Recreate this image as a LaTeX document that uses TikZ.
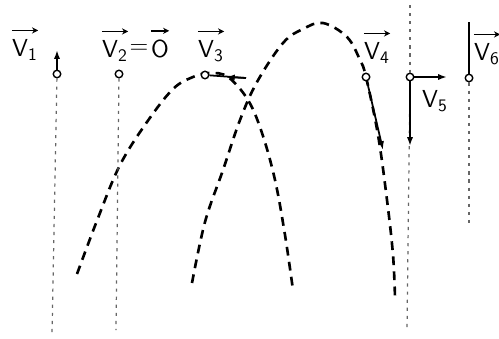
\documentclass[tikz,border=0pt]{standalone}
\usepackage{amsmath}
\usepackage{tikz}
\usetikzlibrary{arrows.meta}

\begin{document}
\begin{tikzpicture}[x=0.02cm, y=-0.02cm,
ball/.style={draw, circle, fill=white, inner sep=0pt, minimum size=0.15cm, line width=0.8pt},
lbl/.style={inner sep=0pt, font=\fontsize{14}{16}\sffamily},
track/.style={line width=1.5pt, dash pattern=on 5pt off 3.6pt},
fall/.style={line width=0.7pt, black!60, dash pattern=on 1.8pt off 2.8pt},
vel/.style={-{Latex[length=5pt,width=3.5pt]}, line width=1pt},
stick/.style={line width=1pt},
hat/.style={-{Stealth[length=3.5pt,width=3.5pt]}, line width=0.8pt}
]
\useasboundingbox (0,0) rectangle (499,338);

% flight paths
\draw[track] plot[smooth, tension=0.6] coordinates {(77,274) (98,218) (120,165) (147,122) (173,89) (193,77) (210,73) (228,77) (248,100) (262,133) (275,180) (285,235) (293,290)};
\draw[track] plot[smooth, tension=0.6] coordinates {(192,283) (205,222) (223,170) (240,120) (257,82) (283,43) (303,29) (323,23) (347,37) (360,60) (366,77) (378,135) (387,200) (393,255) (395,298)};

% particles
\node[ball] (p1) at (57,74) {};
\node[ball] (p2) at (119,74) {};
\node[ball] (p3) at (205,75) {};
\node[ball] (p4) at (366,77) {};
\node[ball] (p5) at (410,77) {};
\node[ball] (p6) at (469,78) {};

\coordinate (b1) at (52,335);
\coordinate (b2) at (116,330);
\coordinate (t5) at (410,5);
\coordinate (b5) at (407,330);
\coordinate (b6) at (469,225);
\draw[fall] (p1) -- (b1);
\draw[fall] (p2) -- (b2);
\draw[fall] (t5) -- (p5);
\draw[fall] (p5) -- (b5);
\draw[fall] (p6) -- (b6);

% velocities
\coordinate (u1) at (57,50);
\coordinate (e3) at (246,78);
\coordinate (h3) at (226,77);
\coordinate (d4) at (383,150);
\coordinate (r5) at (447,77);
\coordinate (d5) at (410,146);
\coordinate (u6) at (469,22);
\draw[vel] (p1) -- (u1);
\draw[stick] (p3) -- (e3);
\draw[vel] (e3) -- (h3);
\draw[vel] (p4) -- (d4);
\draw[vel] (p5) -- (r5);
\draw[vel] (p5) -- (d5);
\draw[stick] (p6) -- (u6);

% labels
\node[lbl] (v1) at (25,50) {V$_{\mathsf{1}}$};
\node[lbl] (v2) at (115,51) {V$_{\mathsf{2}}$};
\node[lbl] (eq) at (139,49) {=};
\node[lbl] (o2) at (160,49) {O};
\node[lbl] (v3) at (211,51) {V$_{\mathsf{3}}$};
\node[lbl] (v4) at (377,53) {V$_{\mathsf{4}}$};
\node[lbl] (v5) at (435,101) {V$_{\mathsf{5}}$};
\node[lbl] (v6) at (487,54) {V$_{\mathsf{6}}$};
\foreach \v in {v1,v2,o2,v3,v4,v6}
  \draw[hat] ([yshift=5pt]\v.north west) -- ([yshift=5pt]\v.north east);
\end{tikzpicture}
\end{document}
